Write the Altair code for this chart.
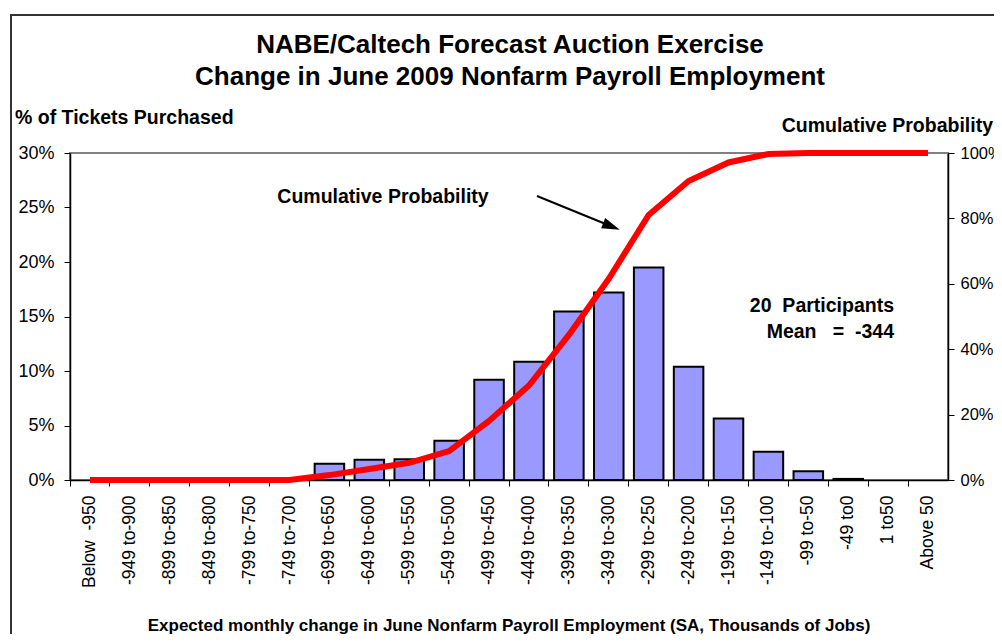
import altair as alt
import pandas as pd

FONT = "Liberation Sans"

categories = ["Below\u00a0 -950", "-949 to-900", "-899 to-850", "-849 to-800", "-799 to-750",
              "-749 to-700", "-699 to-650", "-649 to-600", "-599 to-550", "-549 to-500",
              "-499 to-450", "-449 to-400", "-399 to-350", "-349 to-300", "-299 to-250",
              "-249 to-200", "-199 to-150", "-149 to-100", "-99 to-50", "-49 to0",
              "1 to50", "Above 50"]
tickets_pct = [0, 0, 0, 0, 0, 0, 1.5, 1.85, 1.9, 3.6, 9.2, 10.85, 15.45, 17.2, 19.5,
               10.4, 5.65, 2.6, 0.8, 0.1, 0, 0]
cumulative_pct = [0, 0, 0, 0, 0, 0, 1.5, 3.35, 5.25, 8.85, 18.05, 28.9, 44.35, 61.55,
                  81.05, 91.45, 97.1, 99.7, 100, 100, 100, 100]
left_ticks = [0, 5, 10, 15, 20, 25, 30]
right_ticks = [0, 20, 40, 60, 80, 100]

title_lines = ["NABE/Caltech Forecast Auction Exercise",
               "Change in June 2009 Nonfarm Payroll Employment"]
left_title = "% of Tickets Purchased"
right_title = "Cumulative Probability"
x_title = "Expected monthly change in June Nonfarm Payroll Employment (SA, Thousands of Jobs)"
note_lines = ["20\u00a0\u00a0Participants", "Mean\u00a0\u00a0\u00a0=\u00a0\u00a0-344"]

df = pd.DataFrame({"range": categories, "pct": tickets_pct, "cum": cumulative_pct})

W, H = 878, 327

x_enc = alt.X("range:N", sort=categories,
              scale=alt.Scale(paddingInner=0, paddingOuter=0),
              axis=alt.Axis(title=None, labelAngle=-90, bandPosition=0,
                            tickSize=6, labelPadding=9,
                            labelFont=FONT, labelFontSize=17.5, labelColor="black",
                            domainColor="black", domainWidth=1.5, tickColor="black",
                            tickWidth=1, grid=False))

base = alt.Chart(df)

bars = base.transform_filter("datum.pct > 0").mark_bar(
    width=alt.RelativeBandSize(0.74), color="#9999FF", stroke="black", strokeWidth=2
).encode(
    x=x_enc,
    y=alt.Y("pct:Q", scale=alt.Scale(domain=[0, 30], nice=False),
            axis=alt.Axis(title=None, orient="left", values=left_ticks,
                          labelExpr="datum.value + '%'", tickSize=6, labelPadding=10,
                          labelFont=FONT, labelFontSize=18, labelColor="black",
                          domainColor="black", domainWidth=1.5, tickColor="black",
                          grid=False)),
)

line = base.mark_line(color="#FF0000", strokeWidth=6).encode(
    x=x_enc,
    y=alt.Y("cum:Q", scale=alt.Scale(domain=[0, 100], nice=False),
            axis=alt.Axis(title=None, orient="right", values=right_ticks,
                          labelExpr="datum.value + '%'", tickSize=6, labelPadding=6,
                          labelFont=FONT, labelFontSize=16.5, labelColor="black",
                          domainColor="black", domainWidth=1.5, tickColor="black",
                          grid=False)),
)

one = alt.Data(values=[{}])


def txt(s, x, y, size, align="center", bold=True):
    return alt.Chart(one).mark_text(
        text=s, font=FONT, fontSize=size, fontWeight="bold" if bold else "normal",
        align=align, baseline="middle", color="black"
    ).encode(x=alt.value(x), y=alt.value(y))


frame = alt.Chart(one).mark_rect(fill="transparent", stroke="#333333", strokeWidth=2).encode(
    x=alt.value(-59), x2=alt.value(1000), y=alt.value(-138), y2=alt.value(700)
)

arrow_line = alt.Chart(one).mark_rule(color="black", strokeWidth=2).encode(
    x=alt.value(467), y=alt.value(43), x2=alt.value(543), y2=alt.value(74)
)
arrow_head = alt.Chart(one).mark_point(
    shape="M0,-1L0.6,1L-0.6,1Z", filled=True, color="black", opacity=1,
    size=324, angle=112, strokeWidth=0
).encode(x=alt.value(541.5), y=alt.value(73.5))

texts = [
    txt(title_lines[0], 440, -108, 26),
    txt(title_lines[1], 440, -76, 26),
    txt(left_title, -55, -35, 19.5, align="left"),
    txt(right_title, 923, -27, 19.5, align="right"),
    txt(right_title, 313, 44, 19.5),
    txt(note_lines[0], 824, 153, 19.5, align="right"),
    txt(note_lines[1], 824, 179, 19.5, align="right"),
    txt(x_title, 439, 473, 17),
]

chart = alt.layer(frame, bars, line, arrow_line, arrow_head, *texts).resolve_scale(
    y="independent"
).properties(
    width=W, height=H,
    autosize=alt.AutoSizeParams(type="none"),
    padding={"left": 62, "top": 145, "right": 46, "bottom": 154},
    background="white",
).configure_view(stroke="#808080", strokeWidth=2)

chart.save("out.html", embed_options={"renderer": "svg", "actions": False})
